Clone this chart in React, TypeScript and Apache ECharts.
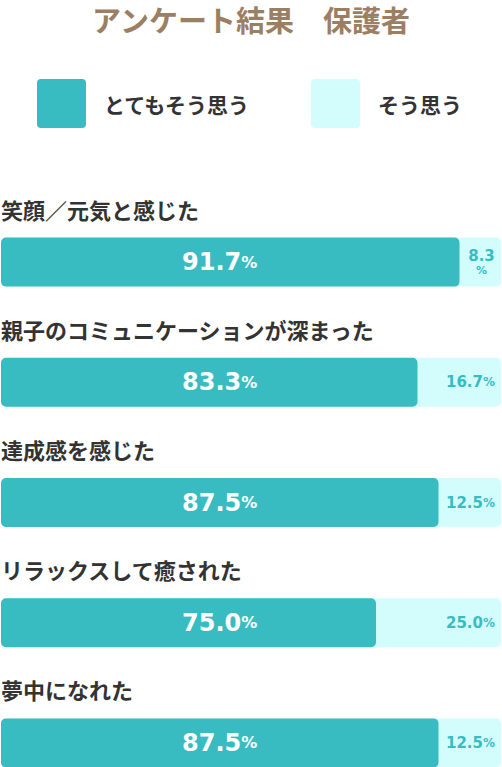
import React, { useEffect, useRef } from "react";
import * as echarts from "echarts";

const title = "アンケート結果　保護者";
const seriesNames = ["とてもそう思う", "そう思う"];
const categories = [
  "笑顔／元気と感じた",
  "親子のコミュニケーションが深まった",
  "達成感を感じた",
  "リラックスして癒された",
  "夢中になれた",
];
const veryMuch = [91.7, 83.3, 87.5, 75.0, 87.5];
const somewhat = [8.3, 16.7, 12.5, 25.0, 12.5];

const DARK = "#38bcc2";
const LIGHT = "#d3fdfd";
const JP = "'Noto Sans CJK JP', 'Noto Sans', sans-serif";
const NUM = "'DejaVu Sans', sans-serif";
const ICON =
  "path://M4,0 H45 A4,4 0 0 1 49,4 V45 A4,4 0 0 1 45,49 H4 A4,4 0 0 1 0,45 V4 A4,4 0 0 1 4,0 Z";

export default function App() {
  const ref = useRef<HTMLDivElement>(null);
  useEffect(() => {
    if (!ref.current) return;
    const chart = echarts.init(ref.current, undefined, { renderer: "svg" });
    const totals = veryMuch.map((v, i) => +(v + somewhat[i]).toFixed(1));
    chart.setOption({
      animation: false,
      backgroundColor: "#ffffff",
      title: {
        text: title,
        left: "center",
        top: 4,
        padding: 0,
        textStyle: { fontFamily: JP, fontSize: 29, fontWeight: "bold", color: "#9c7f63" },
      },
      legend: {
        data: seriesNames,
        left: 37,
        top: 79,
        padding: 0,
        itemWidth: 49,
        itemHeight: 49,
        itemGap: 60,
        icon: ICON,
        selectedMode: false,
        textStyle: {
          fontFamily: JP,
          fontSize: 21,
          fontWeight: "bold",
          color: "#333333",
          padding: [0, 0, 0, 13],
        },
      },
      grid: {
        left: 1,
        right: 1,
        top: 202,
        height: 601,
        containLabel: false,
        outerBoundsMode: "none",
      },
      xAxis: { type: "value", min: 0, max: 100, show: false },
      yAxis: {
        type: "category",
        data: categories,
        inverse: true,
        show: false,
      },
      series: [
        {
          name: seriesNames[1],
          type: "bar",
          data: totals,
          barWidth: 49,
          itemStyle: { color: LIGHT, borderRadius: 5 },
          label: {
            show: true,
            position: "insideRight",
            distance: 6,
            formatter: (p: any) => {
              const v = somewhat[p.dataIndex].toFixed(1);
              return somewhat[p.dataIndex] < 10
                ? `{a|${v}}\n{b|%}`
                : `{n|${v}}{p|%}`;
            },
            rich: {
              n: { fontFamily: NUM, fontSize: 15, fontWeight: "bold", color: DARK },
              p: { fontFamily: NUM, fontSize: 12, fontWeight: "bold", color: DARK },
              a: {
                fontFamily: NUM,
                fontSize: 15,
                fontWeight: "bold",
                color: DARK,
                width: 27,
                align: "center",
                lineHeight: 16,
              },
              b: {
                fontFamily: NUM,
                fontSize: 11,
                fontWeight: "bold",
                color: DARK,
                width: 27,
                align: "center",
                lineHeight: 12,
              },
            },
          },
        },
        {
          name: seriesNames[0],
          type: "bar",
          data: veryMuch,
          barWidth: 49,
          barGap: "-100%",
          itemStyle: { color: DARK, borderRadius: 5 },
          label: {
            show: true,
            position: [181, "50%"],
            align: "left",
            verticalAlign: "middle",
            formatter: (p: any) => `{n|${veryMuch[p.dataIndex].toFixed(1)}}{p|%}`,
            rich: {
              n: { fontFamily: NUM, fontSize: 24, fontWeight: "bold", color: "#ffffff" },
              p: { fontFamily: NUM, fontSize: 16, fontWeight: "bold", color: "#ffffff" },
            },
          },
        },
        {
          name: "category",
          type: "bar",
          data: totals,
          barWidth: 49,
          barGap: "-100%",
          silent: true,
          z: 5,
          itemStyle: { color: "rgba(0,0,0,0)" },
          label: {
            show: true,
            position: [0, -29],
            align: "left",
            verticalAlign: "middle",
            formatter: (p: any) => categories[p.dataIndex],
            fontFamily: JP,
            fontSize: 22,
            fontWeight: "bold",
            color: "#333333",
          },
        },
      ],
    });
    return () => chart.dispose();
  }, []);
  return (
    <div
      ref={ref}
      style={{ position: "fixed", left: 0, top: 0, width: 502, height: 767 }}
    />
  );
}
